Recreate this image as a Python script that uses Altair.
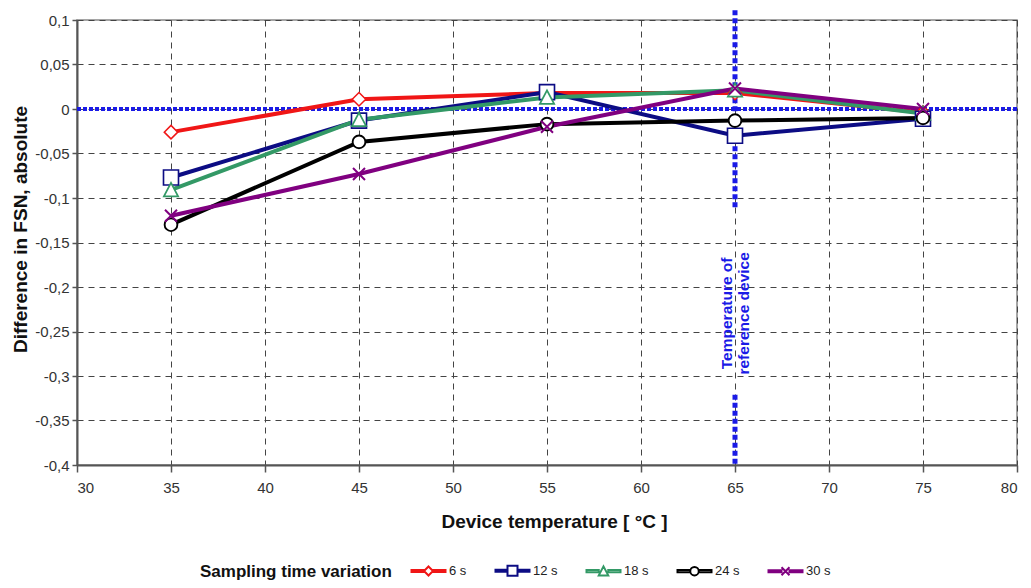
import altair as alt
import pandas as pd

# ---------------- data ----------------
temps = [35, 45, 55, 65, 75]
series_names = ["6 s", "12 s", "18 s", "24 s", "30 s"]
vals_6s = [-0.026, 0.011, 0.018, 0.018, -0.004]
vals_12s = [-0.077, -0.013, 0.019, -0.030, -0.011]
vals_18s = [-0.091, -0.012, 0.013, 0.021, -0.005]
vals_24s = [-0.130, -0.037, -0.017, -0.013, -0.010]
vals_30s = [-0.120, -0.073, -0.020, 0.023, 0.000]
series_values = [vals_6s, vals_12s, vals_18s, vals_24s, vals_30s]
series_colors = ["#f01616", "#0c0c84", "#339966", "#000000", "#800080"]

x_ticks = [30, 35, 40, 45, 50, 55, 60, 65, 70, 75, 80]
y_ticks = [0.1, 0.05, 0, -0.05, -0.1, -0.15, -0.2, -0.25, -0.3, -0.35, -0.4]

ref_temp = 65
ref_seg_top = [0.111, -0.321]
ref_seg_bottom = [-0.113, -0.4]
ref_label = "Temperature of\nreference device"
ref_label_y = -0.224
zero_line = [0]

# ---------------- tables ----------------
rows = []
for name, vals in zip(series_names, series_values):
    for t, v in zip(temps, vals):
        rows.append({"temp": t, "value": v, "series": name})
df = pd.DataFrame(rows)

df_zero = pd.DataFrame({"value": zero_line})
df_ref = pd.DataFrame({"temp": [ref_temp] * len(ref_seg_top),
                       "value": ref_seg_top, "value2": ref_seg_bottom})
df_text = pd.DataFrame({"temp": [ref_temp], "value": [ref_label_y], "label": [ref_label]})

FONT = "Liberation Sans"
BLUE = "#1a1ae6"

# marker shapes (unit box -1..1)
marker_paths = [
    "M0,-0.9L0.9,0L0,0.9L-0.9,0Z",
    "M-1,-1H1V1H-1Z",
    "M0,-0.95L0.95,0.85H-0.95Z",
    "M0.85,0A0.85,0.85,0,1,1,-0.85,0A0.85,0.85,0,1,1,0.85,0Z",
    "M-0.8,-0.8L0.8,0.8M-0.8,0.8L0.8,-0.8",
]
marker_edges = [0.9, 1.0, 0.95, 0.85, 0.8]


def legend_path(p, e):
    return (p + f"M-3.4,-0.22H{-e}V0.22H-3.4Z" + f"M{e},-0.22H3.4V0.22H{e}Z")


legend_paths = [legend_path(p, e) for p, e in zip(marker_paths, marker_edges)]

x_scale = alt.Scale(domain=[30, 80], nice=False)
y_scale = alt.Scale(domain=[-0.4, 0.1], nice=False)

x_axis = alt.Axis(values=x_ticks, grid=True, gridDash=[6, 5], gridColor="#444",
                  gridWidth=1, tickSize=7, tickColor="#555", tickWidth=1.5,
                  labelPadding=8, format="d",
                  title="Device temperature [ °C ]", titleX=477, titleY=56,
                  titleBaseline="middle")
y_axis = alt.Axis(values=y_ticks, grid=True, gridDash=[6, 5], gridColor="#444",
                  gridWidth=1, tickSize=5, tickColor="#555", tickWidth=1.5,
                  labelPadding=3,
                  labelExpr="replace(toString(round(datum.value*100)/100), '.', ',')",
                  title="Difference in FSN, absolute", titleX=-57, titleY=209,
                  titleBaseline="middle", titleAngle=270)

X = alt.X("temp:Q", scale=x_scale, axis=x_axis)
Y = alt.Y("value:Q", scale=y_scale, axis=y_axis)

color_nolegend = alt.Color("series:N", scale=alt.Scale(domain=series_names, range=series_colors),
                           legend=None)

legend_def = alt.Legend(
    title="Sampling time variation", orient="none", legendX=123, legendY=544,
    direction="horizontal", columns=5, titleOrient="left", titlePadding=30,
    titleLimit=400,
    titleFont=FONT, titleFontSize=17, titleFontWeight="bold", titleColor="#111",
    labelFont=FONT, labelFontSize=13, labelColor="#222", labelOffset=14,
    columnPadding=24, symbolSize=100, symbolStrokeWidth=2,
    symbolFillColor="white", symbolOpacity=1, titleBaseline="middle",
)

zero_rule = alt.Chart(df_zero).mark_rule(color=BLUE, strokeWidth=4, strokeDash=[4, 2]).encode(
    y=Y
)

ref_rule = alt.Chart(df_ref).mark_rule(color=BLUE, strokeWidth=5, strokeDash=[5, 3]).encode(
    x=X, y=Y, y2="value2:Q"
)

ref_text = alt.Chart(df_text).mark_text(
    angle=270, lineBreak="\n", align="center", baseline="middle", dx=-5, dy=-8,
    font=FONT, fontSize=15.5, fontWeight="bold", color=BLUE, lineHeight=17
).encode(x=X, y=Y, text="label:N")

lines = alt.Chart(df).mark_line(strokeWidth=4).encode(
    x=X, y=Y, color=color_nolegend, detail="series:N", order="temp:Q"
)

points = alt.Chart(df).mark_point(filled=False, fill="white", opacity=1, size=225).encode(
    x=X, y=Y, color=color_nolegend,
    shape=alt.Shape("series:N", scale=alt.Scale(domain=series_names, range=marker_paths),
                    legend=None),
    strokeWidth=alt.StrokeWidth("series:N",
                                scale=alt.Scale(domain=series_names, range=[1.5, 2, 1.5, 1.5, 3]),
                                legend=None),
)

legend_layer = alt.Chart(df).transform_filter("false").mark_point(
    filled=False, fill="white", opacity=1, size=100, strokeWidth=2
).encode(
    x=X, y=Y,
    color=alt.Color("series:N", scale=alt.Scale(domain=series_names, range=series_colors),
                    legend=legend_def),
    shape=alt.Shape("series:N", scale=alt.Scale(domain=series_names, range=legend_paths),
                    legend=legend_def),
)

chart = alt.layer(
    zero_rule, ref_rule, lines, points, ref_text, legend_layer
).resolve_scale(
    color="independent", shape="independent", strokeWidth="independent"
).properties(
    width=940, height=445,
    padding={"left": 69, "top": 12, "right": 4, "bottom": 120},
    autosize=alt.AutoSizeParams(type="none"),
).configure_view(
    stroke="#888", strokeWidth=1.5
).configure_axis(
    labelFont=FONT, labelFontSize=15, labelColor="#333",
    titleFont=FONT, titleFontSize=19, titleFontWeight="bold", titleColor="#111",
    domainColor="#555", domainWidth=2,
)

chart.save("out.html", embed_options={"renderer": "svg", "actions": False})
